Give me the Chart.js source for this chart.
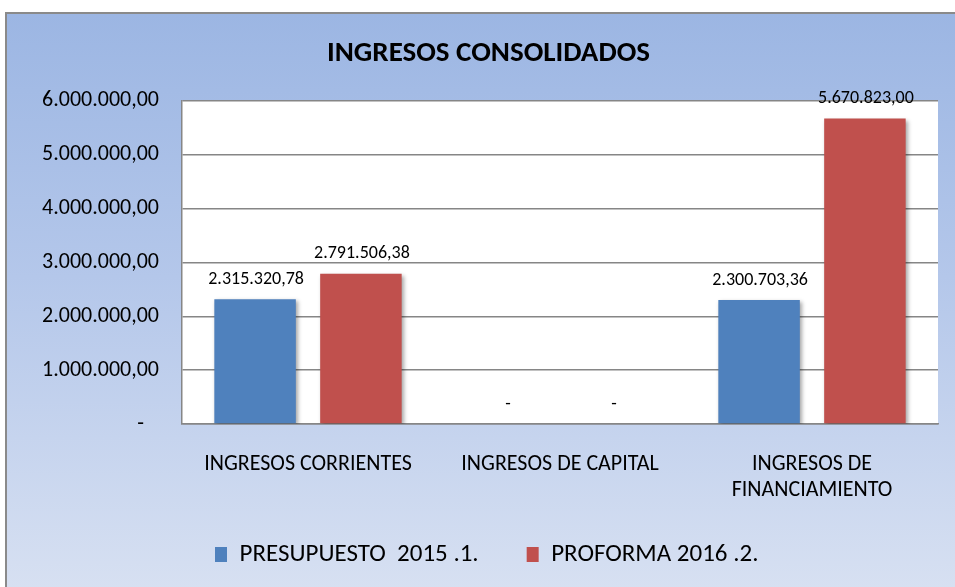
<!DOCTYPE html>
<html>
<head>
<meta charset="utf-8">
<script src="https://cdn.jsdelivr.net/npm/chart.js@4/dist/chart.umd.min.js"></script>
<style>
    html, body { margin: 0; padding: 0; background: #fff; }
    body { width: 955px; height: 587px; overflow: hidden; position: relative; }
    #marco {
        position: absolute; left: 5px; top: 12px; width: 960px; height: 585px;
        border-left: 2px solid #8a8a8a; border-top: 2px solid #8a8a8a;
        background: linear-gradient(to bottom, #9cb6e3 0%, #b4c7ea 45%, #d8e1f2 100%);
    }
    #grafico { position: absolute; left: 0; top: 0; }
</style>
</head>
<body>
<div id="marco">
    <canvas id="grafico" width="948" height="575"></canvas>
</div>
<script>
// Datos del gráfico
const categorias = ['INGRESOS CORRIENTES', 'INGRESOS DE CAPITAL', ['INGRESOS DE', 'FINANCIAMIENTO']];
const presupuesto2015 = [2315320.78, 0, 2300703.36];
const proforma2016 = [2791506.38, 0, 5670823.00];
const nombresSeries = ['PRESUPUESTO  2015 .1.', 'PROFORMA 2016 .2.'];
const ticksY = [0, 1000000, 2000000, 3000000, 4000000, 5000000, 6000000];

const FUENTE = 'Carlito, Lato, sans-serif';

// Formato 1.234.567,89 ; cero como "-"
function formatoNumero(v) {
    if (v === 0) return '-';
    const partes = v.toFixed(2).split('.');
    const entero = partes[0].replace(/\B(?=(\d{3})+(?!\d))/g, '.');
    return entero + ',' + partes[1];
}

// Fondo blanco del área de trazado
const fondoArea = {
    id: 'fondoArea',
    beforeDraw(chart) {
        const { ctx, chartArea: a } = chart;
        ctx.save();
        ctx.fillStyle = '#ffffff';
        ctx.fillRect(a.left, a.top, a.right - a.left, a.bottom - a.top);
        ctx.restore();
    }
};

// Coloca la leyenda como en Excel (un poco a la izquierda y más arriba)
const posLeyenda = {
    id: 'posLeyenda',
    afterLayout(chart) {
        if (!chart.legend) return;
        chart.legend.left = chart.chartArea.left - 15;
        chart.legend.top = chart.chartArea.bottom + 70;
    }
};

// Sombra suave debajo de las barras
const sombraBarras = {
    id: 'sombraBarras',
    beforeDatasetsDraw(chart) {
        const ctx = chart.ctx;
        ctx.save();
        ctx.shadowColor = 'rgba(0,0,0,0.35)';
        ctx.shadowBlur = 4;
        ctx.shadowOffsetX = 2;
        ctx.shadowOffsetY = 2;
    },
    afterDatasetsDraw(chart) {
        chart.ctx.restore();
    }
};

// Etiquetas de valor encima de cada barra
const etiquetasValor = {
    id: 'etiquetasValor',
    afterDatasetsDraw(chart) {
        const ctx = chart.ctx;
        ctx.save();
        ctx.font = '18px ' + FUENTE;
        ctx.fillStyle = '#000';
        ctx.textAlign = 'center';
        ctx.textBaseline = 'middle';
        chart.data.datasets.forEach((ds, i) => {
            chart.getDatasetMeta(i).data.forEach((barra, j) => {
                ctx.fillText(formatoNumero(ds.data[j]), barra.x + 1, barra.y - 20);
            });
        });
        ctx.restore();
    }
};

const ctx = document.getElementById('grafico').getContext('2d');
new Chart(ctx, {
    type: 'bar',
    data: {
        labels: categorias,
        datasets: [{
            label: nombresSeries[0],
            data: presupuesto2015,
            backgroundColor: '#4f81bd',
            categoryPercentage: 0.84,
            barPercentage: 0.77
        }, {
            label: nombresSeries[1],
            data: proforma2016,
            backgroundColor: '#c0504d',
            categoryPercentage: 0.84,
            barPercentage: 0.77
        }]
    },
    options: {
        responsive: false,
        animation: false,
        layout: { padding: { left: 32, right: 17, top: 0, bottom: 0 } },
        plugins: {
            title: {
                display: true,
                text: 'INGRESOS CONSOLIDADOS',
                color: '#000',
                font: { family: FUENTE, size: 29, weight: 'bold' },
                padding: { top: 22, bottom: 30 }
            },
            legend: {
                position: 'bottom',
                align: 'start',
                fullSize: false,
                maxHeight: 60,
                labels: {
                    boxWidth: 12,
                    boxHeight: 15,
                    padding: 48,
                    color: '#000',
                    font: { family: FUENTE, size: 25 }
                }
            },
            tooltip: { enabled: false }
        },
        scales: {
            x: {
                grid: { display: false },
                border: { display: true, color: '#868686', width: 1.5 },
                ticks: {
                    color: '#000',
                    padding: 19,
                    maxRotation: 0,
                    font: { family: FUENTE, size: 22, lineHeight: '26px' }
                },
                afterFit(scale) { scale.height = 105; }
            },
            y: {
                min: 0,
                max: 6000000,
                afterBuildTicks(scale) { scale.ticks = ticksY.map(v => ({ value: v })); },
                grid: { color: '#868686', lineWidth: 1.5, drawTicks: false },
                border: { display: true, color: '#868686', width: 1.5 },
                ticks: {
                    color: '#000',
                    padding: 23,
                    font: { family: FUENTE, size: 22 },
                    // el cero se muestra como "-" algo desplazado, al estilo contable
                    callback: v => v === 0 ? '-   ' : formatoNumero(v)
                },
                afterFit(scale) { scale.width = 143; }
            }
        }
    },
    plugins: [fondoArea, posLeyenda, sombraBarras, etiquetasValor]
});
</script>
</body>
</html>
